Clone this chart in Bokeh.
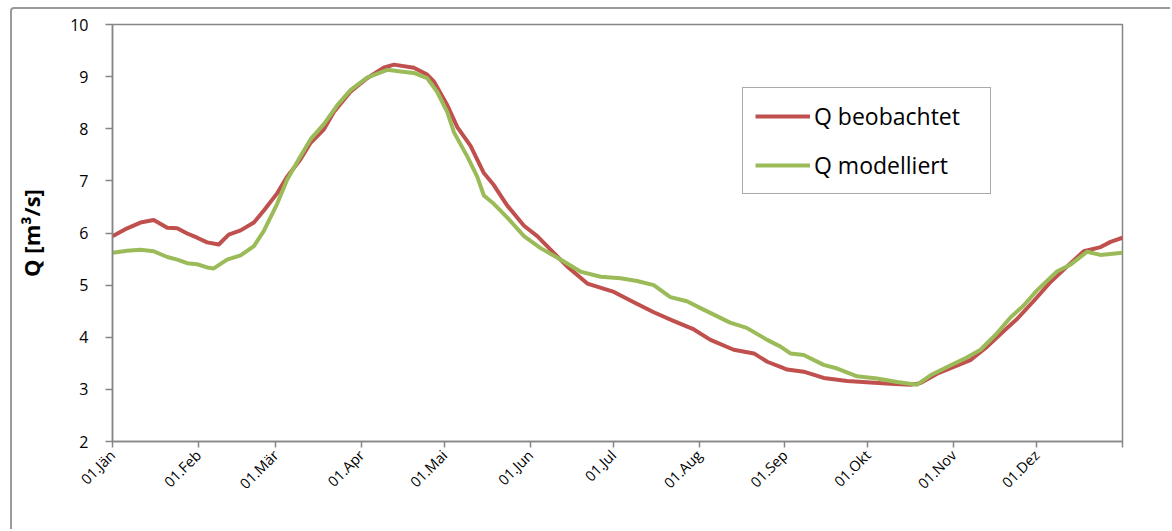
from bokeh.plotting import figure
from bokeh.models import FixedTicker, Legend, LegendItem
from bokeh.embed import file_html
from bokeh.resources import INLINE
import math

# ---- data (day of year, discharge m³/s) ----
tick_days = [0, 31, 59, 90, 120, 151, 181, 212, 243, 273, 304, 334, 365]
tick_labels = ["01.Jän", "01.Feb", "01.Mär", "01.Apr", "01.Mai", "01.Jun",
               "01.Jul", "01.Aug", "01.Sep", "01.Okt", "01.Nov", "01.Dez", ""]

obs_day = [0, 5.3, 10.1, 14.9, 19.8, 23.4, 27, 30.6, 34.2, 38.4, 42, 46.3, 51.1, 54.7,
           59.5, 63.1, 67.9, 71.6, 76.4, 80, 86, 92, 98, 101.7, 108.9, 113.7, 116.1,
           121, 124.6, 129.4, 134.2, 137.8, 142.6, 148.7, 153.5, 158.3, 164.3, 171.6,
           181.2, 188.4, 195.6, 202.9, 210.1, 216.1, 224.5, 231.8, 236.6, 241.4, 243.8,
           249.8, 257, 265.5, 273.9, 281.1, 288.4, 292, 298, 304, 310, 316.1, 322.1,
           326.9, 333, 339, 345, 351, 357.1, 360.7, 365]
obs_q = [5.94, 6.09, 6.20, 6.25, 6.10, 6.09, 5.99, 5.91, 5.82, 5.78, 5.97, 6.05, 6.20, 6.43,
         6.76, 7.08, 7.41, 7.73, 7.99, 8.32, 8.71, 8.97, 9.17, 9.23, 9.17, 9.04, 8.91,
         8.45, 8.03, 7.67, 7.15, 6.92, 6.53, 6.14, 5.94, 5.68, 5.36, 5.03,
         4.87, 4.67, 4.48, 4.31, 4.15, 3.95, 3.76, 3.69, 3.53, 3.43, 3.38,
         3.34, 3.22, 3.16, 3.13, 3.11, 3.09, 3.12, 3.30, 3.43, 3.56, 3.82, 4.12,
         4.35, 4.70, 5.06, 5.36, 5.65, 5.73, 5.83, 5.91]

mod_day = [0, 5.3, 10.1, 14.9, 19.8, 23.4, 27, 30.6, 34.2, 36.6, 41.4, 46.3, 51.1, 54.7,
           59.5, 63.1, 67.9, 71.6, 76.4, 81.2, 86, 92, 99.3, 104.1, 108.9, 113.7, 117.3,
           121, 123.4, 128.2, 131.8, 134.2, 137.8, 142.6, 148.7, 154.7, 161.9, 169.1,
           176.4, 183.6, 189.6, 195.6, 201.6, 207.6, 213.6, 223.2, 229.2, 236.6, 241.4,
           245, 249.8, 257, 261.9, 269.1, 276.3, 283.6, 290.8, 295.6, 301.6, 307.6,
           313.7, 319.7, 324.5, 329.3, 334.1, 341.3, 346.1, 352.2, 357, 365]
mod_q = [5.62, 5.66, 5.68, 5.65, 5.54, 5.49, 5.42, 5.40, 5.34, 5.32, 5.49, 5.57, 5.75, 6.04,
         6.56, 7.02, 7.47, 7.80, 8.09, 8.45, 8.74, 8.98, 9.13, 9.10, 9.07, 8.97, 8.71,
         8.32, 7.93, 7.47, 7.08, 6.72, 6.56, 6.30, 5.94, 5.71, 5.49, 5.26,
         5.16, 5.13, 5.08, 5.00, 4.77, 4.69, 4.53, 4.28, 4.18, 3.95, 3.82,
         3.69, 3.66, 3.47, 3.40, 3.25, 3.21, 3.14, 3.09, 3.27, 3.43, 3.58,
         3.76, 4.08, 4.38, 4.61, 4.90, 5.26, 5.39, 5.64, 5.58, 5.62]

series_names = ["Q beobachtet", "Q modelliert"]
RED = "#C0504D"
GREEN = "#9BBB59"
AXIS = "#868686"
FONT = "Open Sans"

p = figure(width=1160, height=522, x_range=(0, 365), y_range=(2, 10),
           output_backend="svg", toolbar_location=None,
           min_border_left=100, min_border_right=50, min_border_top=15, min_border_bottom=90,
           margin=(7, 0, 0, 10))
p.styles = {"border-left": "2px solid #9a9a9a", "border-top": "2px solid #9a9a9a",
            "border-top-left-radius": "4px"}

p.xgrid.visible = False
p.ygrid.visible = False
p.outline_line_color = AXIS
p.outline_line_width = 1.5
p.outline_line_alpha = 1.0
p.background_fill_color = "white"
p.border_fill_color = "white"

r1 = p.line(obs_day, obs_q, line_color=RED, line_width=4, line_join="round")
r2 = p.line(mod_day, mod_q, line_color=GREEN, line_width=4, line_join="round")

# axes
p.xaxis.ticker = FixedTicker(ticks=tick_days)
p.xaxis.major_label_overrides = {d: l for d, l in zip(tick_days, tick_labels)}
p.xaxis.major_label_orientation = math.pi / 4
p.xaxis.minor_tick_line_color = None
p.xaxis.major_tick_in = 0
p.xaxis.major_tick_out = 6
p.xaxis.axis_line_color = AXIS
p.xaxis.axis_line_width = 1.5
p.xaxis.major_tick_line_color = AXIS
p.xaxis.major_tick_line_width = 1.5
p.xaxis.major_label_text_font = FONT
p.xaxis.major_label_text_font_size = "14.5px"
p.xaxis.major_label_text_color = "black"
p.xaxis.major_label_standoff = 5

p.yaxis.ticker = FixedTicker(ticks=[2, 3, 4, 5, 6, 7, 8, 9, 10])
p.yaxis.minor_tick_line_color = None
p.yaxis.major_tick_in = 0
p.yaxis.major_tick_out = 7
p.yaxis.axis_line_color = AXIS
p.yaxis.axis_line_width = 1.5
p.yaxis.major_tick_line_color = AXIS
p.yaxis.major_tick_line_width = 1.5
p.yaxis.major_label_text_font = FONT
p.yaxis.major_label_text_font_size = "16px"
p.yaxis.major_label_text_color = "black"
p.yaxis.major_label_standoff = 17
p.yaxis.axis_label = "Q [m³/s]"
p.yaxis.axis_label_text_font = FONT
p.yaxis.axis_label_text_font_size = "22px"
p.yaxis.axis_label_text_font_style = "bold"
p.yaxis.axis_label_text_color = "black"
p.yaxis.axis_label_standoff = 21

legend = Legend(items=[LegendItem(label=series_names[0], renderers=[r1]),
                       LegendItem(label=series_names[1], renderers=[r2])],
                location=(630, 247))
legend.border_line_color = "#555555"
legend.border_line_width = 1.5
legend.background_fill_color = "white"
legend.background_fill_alpha = 1.0
legend.label_text_font = FONT
legend.label_text_font_size = "23px"
legend.label_text_color = "black"
legend.glyph_width = 55
legend.glyph_height = 30
legend.label_height = 30
legend.label_width = 164
legend.label_standoff = 4
legend.spacing = 17
legend.padding = 12
legend.margin = 0
p.add_layout(legend)

open("out.html", "w").write(file_html(p, INLINE))
